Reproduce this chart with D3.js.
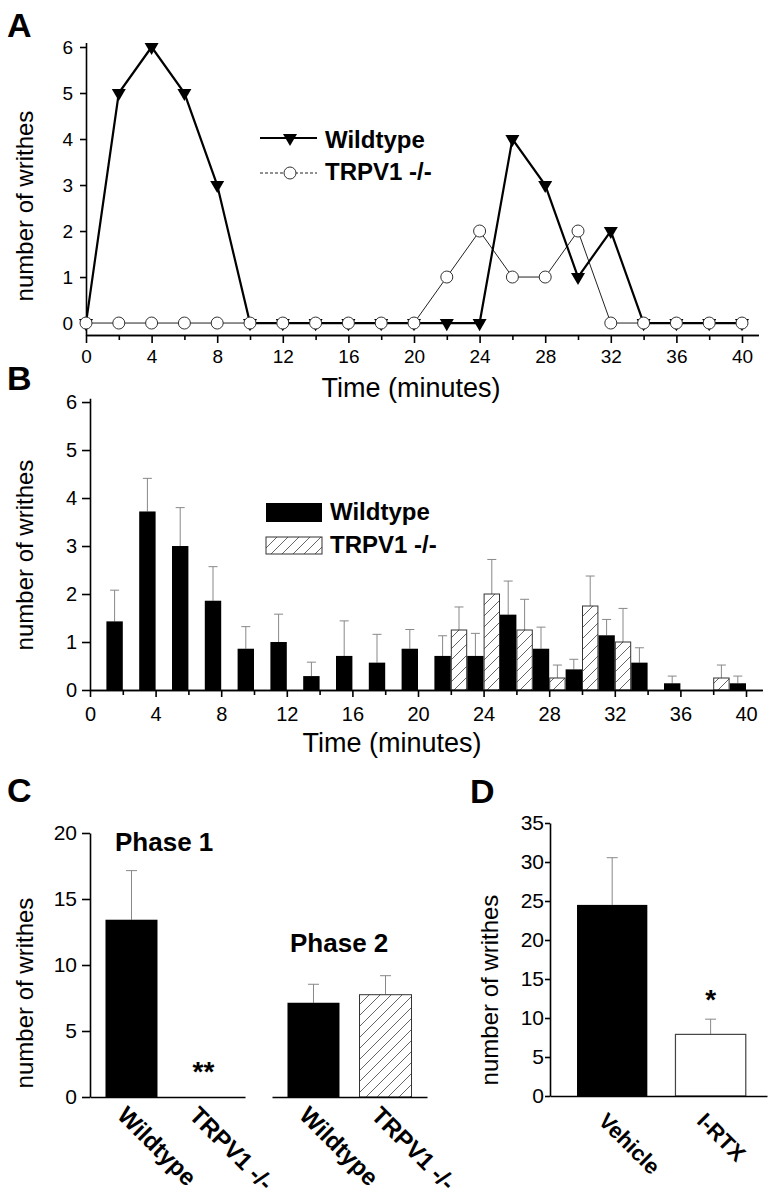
<!DOCTYPE html>
<html><head><meta charset="utf-8">
<script src="https://cdn.jsdelivr.net/npm/d3@7"></script>
<style>
body{margin:0;background:#fff}
svg{display:block;font-family:"Liberation Sans",Arial,Helvetica,sans-serif}
</style></head><body>
<svg id="fig" width="773" height="1199"></svg>
<script>
// ---------- Panel A data ----------
const timeA = [0,2,4,6,8,10,12,14,16,18,20,22,24,26,28,30,32,34,36,38,40];
const wildtypeA = [0,5,6,5,3,0,0,0,0,0,0,0,0,4,3,1,2,0,0,0,0];
const trpv1A    = [0,0,0,0,0,0,0,0,0,0,0,1,2,1,1,2,0,0,0,0,0];
const xMajorA = [0,4,8,12,16,20,24,28,32,36,40];
const xMinorA = [2,6,10,14,18,22,26,30,34,38];
const yTicksA = [0,1,2,3,4,5,6];

// ---------- Panel B data ----------
const intervalStartB = [0,2,4,6,8,10,12,14,16,18,20,22,24,26,28,30,32,34,36,38];
const wildtypeMeanB = [1.43,3.72,3.0,1.86,0.86,1.0,0.29,0.71,0.57,0.86,0.71,0.71,1.57,0.86,0.43,1.14,0.57,0.14,0,0.14];
const wildtypeSemB  = [0.65,0.69,0.80,0.71,0.46,0.58,0.29,0.73,0.59,0.40,0.42,0.47,0.70,0.45,0.21,0.33,0.31,0.15,0,0.15];
const trpv1MeanB    = [0,0,0,0,0,0,0,0,0,0,0,1.25,2.0,1.25,0.25,1.75,1.0,0,0,0.25];
const trpv1SemB     = [0,0,0,0,0,0,0,0,0,0,0,0.48,0.72,0.64,0.27,0.625,0.70,0,0,0.27];
const xMajorB = [0,4,8,12,16,20,24,28,32,36,40];
const xMinorB = [2,6,10,14,18,22,26,30,34,38];
const yTicksB = [0,1,2,3,4,5,6];

// ---------- Panel C data ----------
const phasesC = ["Phase 1","Phase 2"];
const groupsC = ["Wildtype","TRPV1 -/-"];
const phase1MeanC = [13.43, 0];
const phase1SemC  = [3.72, 0];
const phase2MeanC = [7.14, 7.75];
const phase2SemC  = [1.40, 1.44];
const yTicksC = [0,5,10,15,20];

// ---------- Panel D data ----------
const groupsD = ["Vehicle","I-RTX"];
const meanD = [24.5, 7.9];
const semD  = [6.05, 1.95];
const yTicksD = [0,5,10,15,20,25,30,35];

const FONT = "'Liberation Sans', Arial, Helvetica, sans-serif";
const fmtInt = d3.format("d");
const svg = d3.select("#fig");
svg.append("rect").attr("width",773).attr("height",1199).attr("fill","#fff");

const defs = svg.append("defs");
const pat = defs.append("pattern").attr("id","hatch").attr("patternUnits","userSpaceOnUse")
  .attr("width",11).attr("height",11);
pat.append("rect").attr("width",11).attr("height",11).attr("fill","#fff");
pat.append("path").attr("d","M-1,1 l2,-2 M0,11 l11,-11 M10,12 l2,-2")
  .attr("stroke","#555").attr("stroke-width",0.9);

function styleAxis(g, fs){
  g.attr("font-family",FONT).attr("font-size",fs);
  g.select(".domain").attr("stroke","#000").attr("stroke-width",1.6);
  g.selectAll(".tick line").attr("stroke","#000").attr("stroke-width",1.6);
  g.selectAll(".tick text").attr("fill","#000");
}
function label(txt,x,y,size,bold,anchor){
  return svg.append("text").text(txt).attr("x",x).attr("y",y)
    .attr("font-size",size).attr("font-weight",bold?"bold":"normal")
    .attr("text-anchor",anchor||"start").attr("fill","#000").attr("font-family",FONT);
}
function yLabel(x,yc){
  svg.append("text").text("number of writhes")
    .attr("transform",`translate(${x},${yc}) rotate(-90)`)
    .attr("text-anchor","middle").attr("font-size",24).attr("font-family",FONT).attr("fill","#000");
}
function errBar(g, xc, y0, y1, cap){
  g.append("line").attr("x1",xc).attr("x2",xc).attr("y1",y0).attr("y2",y1);
  g.append("line").attr("x1",xc-cap/2).attr("x2",xc+cap/2).attr("y1",y1).attr("y2",y1);
}

// ================= Panel A =================
label("A",7,37,34,true);
const xA = d3.scaleLinear().domain([0,41]).range([86,758.4]);
const yA = d3.scaleLinear().domain([-0.26,6.1]).range([335,42.4]);

svg.append("g").attr("transform","translate(0,335)")
  .call(d3.axisBottom(xA).tickValues(xMinorA).tickSize(5).tickSizeOuter(0).tickFormat(""))
  .call(g=>styleAxis(g,19));
svg.append("g").attr("transform","translate(0,335)")
  .call(d3.axisBottom(xA).tickValues(xMajorA).tickSize(8).tickSizeOuter(0).tickPadding(7).tickFormat(fmtInt))
  .call(g=>styleAxis(g,19));
svg.append("g").attr("transform","translate(86,0)")
  .call(d3.axisLeft(yA).tickValues(yTicksA).tickSize(6).tickSizeOuter(0).tickPadding(7).tickFormat(fmtInt))
  .call(g=>styleAxis(g,19));

const ptsWT = timeA.map((t,i)=>({t, v:wildtypeA[i]}));
const ptsTR = timeA.map((t,i)=>({t, v:trpv1A[i]}));
const lineA = d3.line().x(d=>xA(d.t)).y(d=>yA(d.v));
svg.append("path").datum(ptsTR).attr("d",lineA).attr("fill","none").attr("stroke","#222").attr("stroke-width",1);
svg.append("path").datum(ptsWT).attr("d",lineA).attr("fill","none").attr("stroke","#000").attr("stroke-width",2.2);
const tri = d3.symbol().type(d3.symbolTriangle).size(85);
svg.append("g").selectAll("path").data(ptsWT).join("path")
  .attr("d",tri).attr("transform",d=>`translate(${xA(d.t)},${yA(d.v)}) rotate(180)`).attr("fill","#000");
svg.append("g").selectAll("circle").data(ptsTR).join("circle")
  .attr("cx",d=>xA(d.t)).attr("cy",d=>yA(d.v)).attr("r",6)
  .attr("fill","#fff").attr("stroke","#333").attr("stroke-width",1);

// legend A
svg.append("line").attr("x1",260).attr("x2",317).attr("y1",138).attr("y2",138).attr("stroke","#000").attr("stroke-width",2.2);
svg.append("path").attr("d",tri).attr("transform","translate(290,138) rotate(180)").attr("fill","#000");
label("Wildtype",325,148,24,true);
svg.append("line").attr("x1",260).attr("x2",317).attr("y1",173).attr("y2",173).attr("stroke","#222").attr("stroke-width",1).attr("stroke-dasharray","3,2");
svg.append("circle").attr("cx",290).attr("cy",173).attr("r",6).attr("fill","#fff").attr("stroke","#333");
label("TRPV1 -/-",325,180,24,true);

label("Time (minutes)",411,397,27,false,"middle");
yLabel(33,206);

// ================= Panel B =================
label("B",7,390,34,true);
const xB = d3.scaleLinear().domain([0,41]).range([90,762.4]);
const yB = d3.scaleLinear().domain([0,6.08]).range([690,398.2]);

const barsB = intervalStartB.map((s,i)=>({s, wt:wildtypeMeanB[i], wtE:wildtypeSemB[i], tr:trpv1MeanB[i], trE:trpv1SemB[i]}));
const errG = svg.append("g").attr("stroke","#888").attr("stroke-width",1);
barsB.forEach(d=>{
  if(d.wtE>0) errBar(errG, xB(d.s+1.5), yB(d.wt), yB(d.wt+d.wtE), 9);
  if(d.trE>0) errBar(errG, xB(d.s+0.5), yB(d.tr), yB(d.tr+d.trE), 9);
});
svg.append("g").selectAll("rect").data(barsB.filter(d=>d.wt>0)).join("rect")
  .attr("x",d=>xB(d.s+1)).attr("width",d=>xB(d.s+2)-xB(d.s+1))
  .attr("y",d=>yB(d.wt)).attr("height",d=>yB(0)-yB(d.wt)).attr("fill","#000");
svg.append("g").selectAll("rect").data(barsB.filter(d=>d.tr>0)).join("rect")
  .attr("x",d=>xB(d.s)+0.5).attr("width",d=>xB(d.s+1)-xB(d.s)-1)
  .attr("y",d=>yB(d.tr)).attr("height",d=>yB(0)-yB(d.tr))
  .attr("fill","url(#hatch)").attr("stroke","#333").attr("stroke-width",1);

svg.append("g").attr("transform","translate(0,690)")
  .call(d3.axisBottom(xB).tickValues(xMinorB).tickSize(5).tickSizeOuter(0).tickFormat(""))
  .call(g=>styleAxis(g,20));
svg.append("g").attr("transform","translate(0,690)")
  .call(d3.axisBottom(xB).tickValues(xMajorB).tickSize(7).tickSizeOuter(0).tickPadding(10).tickFormat(fmtInt))
  .call(g=>styleAxis(g,20));
svg.append("g").attr("transform","translate(90,0)")
  .call(d3.axisLeft(yB).tickValues(yTicksB).tickSize(8).tickSizeOuter(0).tickPadding(5).tickFormat(fmtInt))
  .call(g=>styleAxis(g,20));

// legend B
svg.append("rect").attr("x",266).attr("y",503).attr("width",56).attr("height",19).attr("fill","#000");
label("Wildtype",330,520,24,true);
svg.append("rect").attr("x",266).attr("y",537).attr("width",56).attr("height",17).attr("fill","url(#hatch)").attr("stroke","#333");
label("TRPV1 -/-",330,553,24,true);

label("Time (minutes)",392,752,27,false,"middle");
yLabel(33,555);

// ================= Panel C =================
label("C",7,802,34,true);
const yC = d3.scaleLinear().domain([0,20]).range([1097,833]);
const xPhase = d3.scaleBand().domain(phasesC).range([90,427]).paddingInner(27/182);
const bandC = d3.scaleBand().domain(groupsC).range([0,xPhase.bandwidth()]).paddingInner(0.278).paddingOuter(0.215);
const dataC = [
  {phase:phasesC[0], means:phase1MeanC, sems:phase1SemC},
  {phase:phasesC[1], means:phase2MeanC, sems:phase2SemC}
];
const errC = svg.append("g").attr("stroke","#888").attr("stroke-width",1);
dataC.forEach(p=>{
  const x0 = xPhase(p.phase);
  groupsC.forEach((g,i)=>{
    const m = p.means[i], s = p.sems[i];
    const xc = x0 + bandC(g) + bandC.bandwidth()/2;
    if(s>0) errBar(errC, xc, yC(m), yC(m+s), 11);
    if(m>0){
      svg.append("rect").attr("x",x0+bandC(g)).attr("width",bandC.bandwidth())
        .attr("y",yC(m)).attr("height",yC(0)-yC(m))
        .attr("fill", i===0 ? "#000" : "url(#hatch)")
        .attr("stroke", i===0 ? "none" : "#333").attr("stroke-width",1);
    }
  });
  const ax = svg.append("g").attr("transform",`translate(${x0},${yC(0)})`)
    .call(d3.axisBottom(bandC).tickSize(0).tickSizeOuter(0).tickPadding(0))
    .call(g=>styleAxis(g,24));
  ax.selectAll(".tick text").attr("font-weight","bold").attr("text-anchor","start")
    .attr("dy",0).attr("transform","rotate(45) translate(3,25)");
});
svg.append("g").attr("transform","translate(90,0)")
  .call(d3.axisLeft(yC).tickValues(yTicksC).tickSize(8).tickSizeOuter(0).tickPadding(5).tickFormat(fmtInt))
  .call(g=>styleAxis(g,21));
label("Phase 1",115,851,26,true);
label("Phase 2",290,952,26,true);
label("**", xPhase(phasesC[0]) + bandC(groupsC[1]) + bandC.bandwidth()/2, yC(0)-16, 28, true, "middle");
yLabel(33,993);

// ================= Panel D =================
label("D",470,803,34,true);
const yD = d3.scaleLinear().domain([0,35]).range([1096,823]);
const xD = d3.scaleBand().domain(groupsD).range([550,767]).paddingInner(0.2857).paddingOuter(0.245).align(0.56);
const errD = svg.append("g").attr("stroke","#888").attr("stroke-width",1);
groupsD.forEach((g,i)=>{
  const xc = xD(g)+xD.bandwidth()/2;
  errBar(errD, xc, yD(meanD[i]), yD(meanD[i]+semD[i]), 11);
});
svg.append("g").selectAll("rect").data(groupsD).join("rect")
  .attr("x",d=>xD(d)).attr("width",xD.bandwidth())
  .attr("y",(d,i)=>yD(meanD[i])).attr("height",(d,i)=>yD(0)-yD(meanD[i]))
  .attr("fill",(d,i)=>i===0?"#000":"#fff").attr("stroke",(d,i)=>i===0?"none":"#444").attr("stroke-width",1.2);
const axD = svg.append("g").attr("transform",`translate(0,${yD(0)})`)
  .call(d3.axisBottom(xD).tickSize(0).tickSizeOuter(0).tickPadding(0))
  .call(g=>styleAxis(g,22));
axD.selectAll(".tick text").attr("font-weight","bold").attr("text-anchor","start")
  .attr("dy",0).attr("transform","rotate(45) translate(8,29)");
svg.append("g").attr("transform","translate(550,0)")
  .call(d3.axisLeft(yD).tickValues(yTicksD).tickSize(5).tickSizeOuter(0).tickPadding(1).tickFormat(fmtInt))
  .call(g=>styleAxis(g,21));
label("*", xD(groupsD[1])+xD.bandwidth()/2, yD(meanD[1]+semD[1])-10, 28, true, "middle");
yLabel(498,990);
</script>
</body></html>
